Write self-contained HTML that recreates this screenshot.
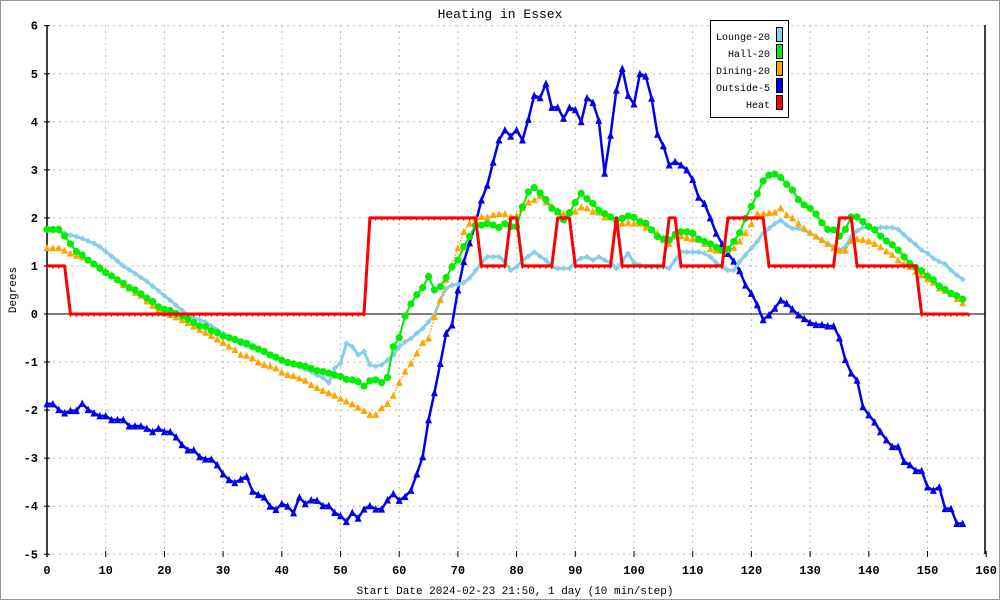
<!DOCTYPE html>
<html><head><meta charset="utf-8"><style>
html,body{margin:0;padding:0;background:#fff}
svg{display:block}
text{font-family:"Liberation Mono","DejaVu Sans Mono",monospace}
</style></head><body>
<svg id="chart" width="1000" height="600" viewBox="0 0 1000 600" xmlns="http://www.w3.org/2000/svg">
<rect x="0.5" y="0.5" width="999" height="599" fill="#fff" stroke="#999" stroke-width="1"/>
<text x="500" y="18" text-anchor="middle" font-size="13">Heating in Essex</text>
<text transform="translate(16,290) rotate(-90)" text-anchor="middle" font-size="11">Degrees</text>
<text x="515" y="594" text-anchor="middle" font-size="11">Start Date 2024-02-23 21:50, 1 day (10 min/step)</text>
<g id="grid"></g>
<g id="axes"></g>
<g id="series"></g>
<g>
<rect x="710.5" y="20.5" width="78" height="97" fill="#fff" stroke="#000"/>
<g><text x="770" y="40" text-anchor="end" font-size="10">Lounge-20</text><rect x="776.5" y="27.5" width="6" height="14" fill="#87ceeb" stroke="#000"/></g>
<g><text x="770" y="57" text-anchor="end" font-size="10">Hall-20</text><rect x="776.5" y="44.5" width="6" height="14" fill="#00ee00" stroke="#000"/></g>
<g><text x="770" y="74" text-anchor="end" font-size="10">Dining-20</text><rect x="776.5" y="61.5" width="6" height="14" fill="#ffa500" stroke="#000"/></g>
<g><text x="770" y="91" text-anchor="end" font-size="10">Outside-5</text><rect x="776.5" y="78.5" width="6" height="14" fill="#0000ee" stroke="#000"/></g>
<g><text x="770" y="108" text-anchor="end" font-size="10">Heat</text><rect x="776.5" y="95.5" width="6" height="14" fill="#ff0000" stroke="#000"/></g>
</g>
</svg>
<script>
const xTicks=[0,10,20,30,40,50,60,70,80,90,100,110,120,130,140,150,160];
const yTicks=[-5,-4,-3,-2,-1,0,1,2,3,4,5,6];
const heat=[1,1,1,1,0,0,0,0,0,0,0,0,0,0,0,0,0,0,0,0,0,0,0,0,0,0,0,0,0,0,0,0,0,0,0,0,0,0,0,0,0,0,0,0,0,0,0,0,0,0,0,0,0,0,0,
2,2,2,2,2,2,2,2,2,2,2,2,2,2,2,2,2,2,2,
1,1,1,1,1,2,2,1,1,1,1,1,1,2,2,2,1,1,1,1,1,1,1,2,1,1,1,1,1,1,1,1,2,2,1,1,1,1,1,1,1,1,2,2,2,2,2,2,2,1,1,1,1,1,1,1,1,1,1,1,1,2,2,2,1,1,1,1,1,1,1,1,1,1,1,0,0,0,0,0,0,0,0,0];
const outside=[-1.87,-1.87,-1.99,-2.06,-2.01,-2.01,-1.86,-1.99,-2.06,-2.12,-2.12,-2.2,-2.2,-2.2,-2.33,-2.33,-2.33,-2.38,-2.45,-2.38,-2.45,-2.45,-2.56,-2.72,-2.83,-2.83,-2.97,-3.02,-3.02,-3.14,-3.33,-3.45,-3.51,-3.44,-3.38,-3.69,-3.76,-3.81,-4.0,-4.07,-3.95,-4.0,-4.14,-3.81,-3.95,-3.87,-3.88,-3.99,-3.99,-4.13,-4.2,-4.32,-4.13,-4.25,-4.06,-3.99,-4.06,-4.06,-3.87,-3.74,-3.88,-3.8,-3.67,-3.33,-2.97,-2.2,-1.64,-1.03,-0.4,-0.23,0.5,1.09,1.48,1.88,
2.37,2.68,3.16,3.62,3.83,3.7,3.83,3.62,4.05,4.55,4.5,4.8,4.3,4.3,4.07,4.3,4.25,4.0,4.5,4.4,4.03,2.93,3.72,4.66,5.11,4.55,4.37,5.0,4.95,4.49,3.74,3.5,3.1,3.17,3.1,3.0,2.8,2.43,2.3,2.0,1.68,1.46,1.26,1.1,0.9,0.6,0.43,0.19,-0.12,-0.02,0.12,0.29,0.22,0.1,-0.02,-0.1,-0.18,-0.22,-0.22,-0.25,-0.25,-0.5,-0.95,-1.23,-1.38,-1.93,-2.1,-2.25,-2.45,-2.62,-2.76,-2.76,-3.07,-3.14,-3.26,-3.26,-3.6,-3.67,-3.6,-4.05,-4.05,-4.36,-4.36];
const hall=[1.76,1.76,1.76,1.62,1.46,1.3,1.23,1.12,1.04,0.95,0.86,0.79,0.71,0.64,0.55,0.5,0.42,0.33,0.26,0.15,0.1,0.07,0.01,-0.04,-0.11,-0.18,-0.25,-0.26,-0.35,-0.39,-0.46,-0.49,-0.53,-0.58,-0.61,-0.68,-0.73,-0.78,-0.85,-0.9,-0.96,-1.01,-1.04,-1.06,-1.09,-1.13,-1.18,-1.2,-1.23,-1.27,-1.3,-1.36,
-1.37,-1.41,-1.5,-1.39,-1.37,-1.43,-1.32,-0.68,-0.49,-0.04,0.21,0.4,0.55,0.78,0.5,0.57,0.76,0.98,1.12,1.4,1.61,1.85,
1.85,1.88,1.85,1.8,1.88,1.82,1.82,2.23,2.54,2.63,2.52,2.38,2.2,2.13,1.96,2.11,2.32,2.51,2.4,2.3,2.16,2.09,2.02,1.96,1.99,2.04,2.01,1.92,1.89,1.75,1.61,1.56,1.54,1.66,1.71,1.71,1.68,1.56,1.51,1.46,1.39,1.32,1.35,1.51,1.69,1.99,2.24,2.5,2.77,2.89,2.91,2.84,2.7,2.58,2.38,2.27,2.2,2.08,1.9,1.76,1.75,1.62,1.76,2.02,2.02,1.92,1.82,1.75,1.62,1.52,1.44,1.33,1.19,1.05,0.97,0.9,0.79,0.71,0.58,0.51,0.43,0.38,0.31];
const dining=[1.37,1.37,1.37,1.32,1.26,1.21,1.18,1.12,1.04,0.98,0.9,0.81,0.71,0.6,0.53,0.44,0.38,0.26,0.17,0.09,0.01,-0.02,-0.07,-0.13,-0.19,-0.26,-0.33,-0.39,-0.46,-0.53,-0.6,-0.68,-0.75,-0.85,-0.87,-0.92,-1.01,-1.06,-1.09,-1.13,-1.22,-1.27,-1.29,-1.34,-1.39,-1.48,-1.54,-1.6,-1.65,-1.7,-1.76,-1.82,-1.88,-1.95,-2.02,-2.1,-2.1,
-1.96,-1.87,-1.7,-1.43,-1.2,-1.03,-0.82,-0.6,-0.51,-0.06,0.29,0.71,1.02,1.37,1.71,1.88,1.99,2.02,
2.01,2.06,2.08,2.08,2.02,2.04,2.2,2.32,2.37,2.45,2.32,2.24,2.11,2.08,2.11,2.13,2.22,2.2,2.13,2.11,2.01,2.01,1.92,1.88,1.9,1.88,1.88,1.8,1.75,1.68,1.54,1.46,1.61,1.62,1.58,1.56,1.54,1.46,1.35,1.32,1.32,1.33,1.37,1.51,1.68,1.87,2.08,2.08,2.1,2.11,2.2,2.06,1.99,1.88,1.78,1.69,1.61,1.54,1.46,1.37,1.32,1.32,1.52,1.56,1.54,1.51,1.46,1.39,1.3,1.23,1.12,1.04,0.98,0.88,0.81,0.72,0.65,0.53,0.48,0.41,0.31,0.22];
const lounge=[1.75,1.74,1.72,1.68,1.64,1.61,1.57,1.52,1.47,1.4,1.3,1.2,1.1,1.0,0.92,0.84,0.76,0.68,0.58,0.48,0.38,0.28,0.18,0.08,-0.02,-0.08,-0.12,-0.17,-0.25,-0.33,-0.4,-0.48,-0.56,-0.62,-0.67,-0.7,-0.75,-0.8,-0.85,-0.91,-0.96,-1.01,-1.06,-1.1,-1.15,-1.2,-1.27,-1.33,-1.43,
-1.13,-1.03,-0.61,-0.68,-0.85,-0.78,-1.06,-1.09,-1.06,-0.96,-0.85,-0.68,-0.58,-0.51,-0.4,-0.3,-0.16,-0.02,0.29,0.53,0.6,0.62,0.65,0.75,0.9,
1.07,1.19,1.19,1.19,1.09,0.91,0.98,1.12,1.2,1.29,1.2,1.12,0.98,0.95,0.95,0.95,1.09,1.16,1.19,1.12,1.19,1.12,1.07,0.95,1.1,1.26,1.07,1.02,0.98,0.98,0.98,0.98,0.95,1.12,1.29,1.29,1.29,1.29,1.26,1.19,1.07,0.98,0.91,0.91,1.09,1.23,1.37,1.51,1.68,1.78,1.88,1.95,1.85,1.78,1.78,1.75,1.68,1.61,1.54,1.46,1.39,1.33,1.4,1.61,1.73,1.8,1.8,1.78,1.8,1.8,1.8,1.76,1.65,1.54,1.44,1.33,1.26,1.16,1.09,1.04,0.91,0.81,0.72];

const X0=47,XS=5.87,Y0=314,YS=48.05,TOP=25,BOT=554,RIGHT=985;
const xs=v=>X0+v*XS, ys=v=>Y0-v*YS;
const NS="http://www.w3.org/2000/svg";
function mk(tag,parent,attrs){const e=document.createElementNS(NS,tag);for(const k in attrs)e.setAttribute(k,attrs[k]);parent.appendChild(e);return e;}
const grid=document.getElementById('grid'),axes=document.getElementById('axes'),series=document.getElementById('series');
xTicks.forEach(t=>{
  const x=xs(t);
  if(t>0&&t<160){const l=mk('line',grid,{x1:x,x2:x,y1:TOP,y2:BOT,stroke:'#bbb','stroke-dasharray':'2,4'});
  
  }
  const tk=mk('line',axes,{x1:x,x2:x,y1:BOT-3,y2:BOT+3,stroke:'#000'});
  
  
  const tx=mk('text',axes,{x:x,y:BOT+20,'text-anchor':'middle','font-size':'12','font-weight':'bold'});
  tx.textContent=t;
  
  
});
yTicks.forEach(t=>{
  const y=ys(t);
  if(t!==0){const l=mk('line',grid,{x1:X0,x2:RIGHT,y1:y,y2:y,stroke:'#bbb','stroke-dasharray':'2,4'});
  
  }
  const tk=mk('line',axes,{x1:X0-3,x2:X0+3,y1:y,y2:y,stroke:'#000'});
  
  
  const tx=mk('text',axes,{x:X0-9,y:y+4,'text-anchor':'end','font-size':'12','font-weight':'bold'});
  tx.textContent=t;
  
  
});
const ya=mk('line',axes,{x1:X0,x2:X0,y1:TOP,y2:BOT+3,stroke:'#000','stroke-width':1.5});


const ra=mk('line',axes,{x1:RIGHT,x2:RIGHT,y1:TOP,y2:BOT,stroke:'#000','stroke-width':1.5});


const za=mk('line',axes,{x1:X0,x2:RIGHT,y1:ys(0),y2:ys(0),stroke:'#000'});



function drawSeries(name,vals,color,width,dash,marker){
  const g=mk('g',series,{});
  
  
  const pts=vals.map((v,i)=>xs(i).toFixed(1)+','+ys(v).toFixed(1)).join(' ');
  const pl=mk('polyline',g,{points:pts,fill:'none',stroke:color,'stroke-width':width,'stroke-linejoin':'round'});
  if(dash)pl.setAttribute('stroke-dasharray',dash);
  
  
  vals.forEach((v,i)=>{
    const x=xs(i),y=ys(v);let m;
    if(marker==='circle')m=mk('circle',g,{cx:x,cy:y,r:3.6,fill:color});
    else if(marker==='tri')m=mk('polygon',g,{points:`${x},${y-4} ${x-3.5},${y+3} ${x+3.5},${y+3}`,fill:color});
    else if(marker==='dtri')m=mk('polygon',g,{points:`${x-2},${y} ${x+2},${y} ${x},${y+3}`,fill:color});
    else if(marker==='square')m=mk('polygon',g,{points:`${x},${y-4} ${x-3.5},${y+3.5} ${x+3.5},${y+3.5}`,fill:color});
    else m=mk('polygon',g,{points:`${x},${y-3} ${x+3},${y} ${x},${y+3} ${x-3},${y}`,fill:color});
    
    
  });
}
drawSeries('outside',outside,'#0000ee',2.5,null,'square');
drawSeries('lounge',lounge,'#87ceeb',3,null,'diamond');
drawSeries('dining',dining,'#ffa500',1.5,'1.5,1.5','tri');
drawSeries('hall',hall,'#00ee00',2,null,'circle');
drawSeries('heat',heat,'#ff0000',3,null,'dtri');
</script>
</body></html>
